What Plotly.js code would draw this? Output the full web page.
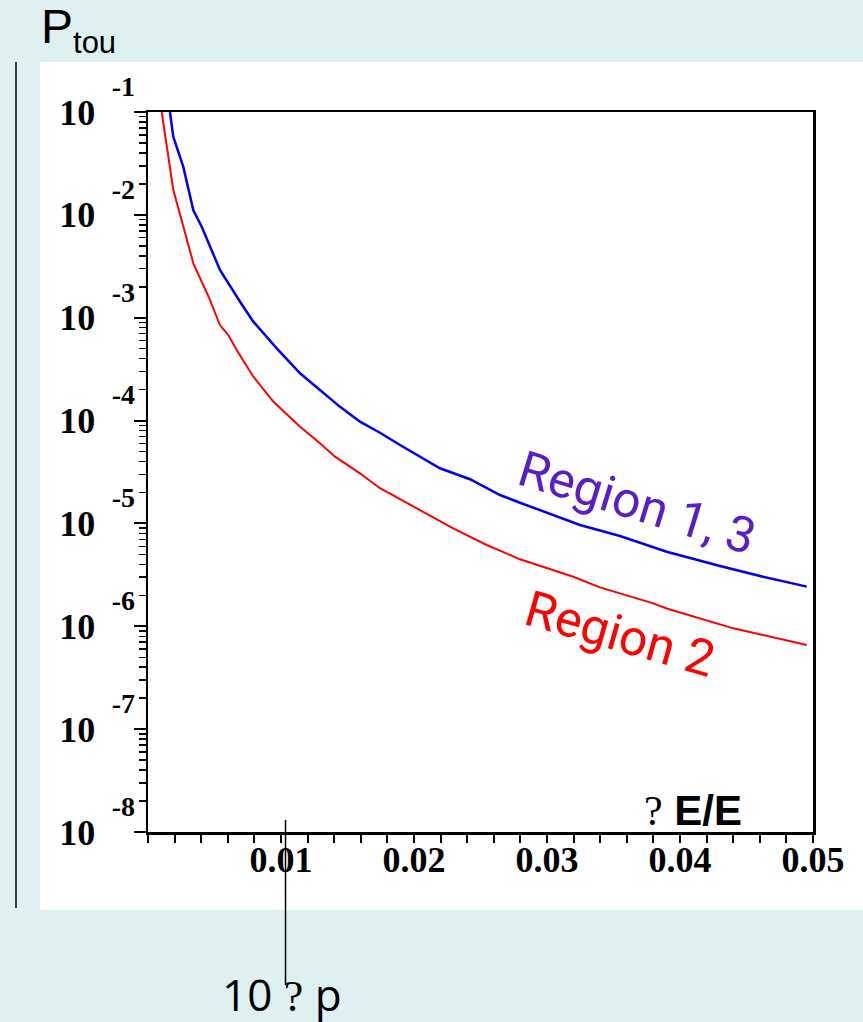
<!DOCTYPE html>
<html>
<head>
<meta charset="utf-8">
<script src="https://cdn.plot.ly/plotly-3.0.1.min.js"></script>
<style>html,body{margin:0;padding:0;background:#def0ef;}#chart{width:863px;height:1022px;}</style>
</head>
<body>
<div id="chart"></div>
<script>
// Region 1, 3 (blue)
const blueX = [0.00165,0.00190,0.00265,0.00341,0.00404,0.00541,0.00692,0.00792,0.00968,0.01143,0.01293,0.01444,0.01594,0.01744,0.01895,0.02045,0.02195,0.02421,0.02647,0.02797,0.03248,0.03549,0.03699,0.03900,0.04301,0.04602,0.04953];
const blueY = [1.0e-1,5.75e-2,2.94e-2,1.11e-2,7.67e-3,2.91e-3,1.43e-3,9.15e-4,5.04e-4,2.88e-4,1.98e-4,1.36e-4,9.75e-5,7.62e-5,5.79e-5,4.46e-5,3.44e-5,2.69e-5,1.89e-5,1.59e-5,9.66e-6,7.55e-6,6.50e-6,5.31e-6,3.85e-6,3.08e-6,2.43e-6];
// Region 2 (red)
const redX = [0.00103,0.00190,0.00341,0.00466,0.00541,0.00604,0.00667,0.00792,0.00942,0.01143,0.01293,0.01406,0.01594,0.01744,0.01895,0.02045,0.02295,0.02547,0.02797,0.03198,0.03398,0.03799,0.03900,0.04401,0.04802,0.04953];
const redY = [1.0e-1,1.75e-2,3.38e-3,1.49e-3,8.49e-4,6.79e-4,4.85e-4,2.67e-4,1.53e-4,8.72e-5,6.01e-5,4.46e-5,3.07e-5,2.20e-5,1.72e-5,1.35e-5,8.97e-6,6.17e-6,4.48e-6,3.03e-6,2.39e-6,1.67e-6,1.49e-6,9.55e-7,7.36e-7,6.58e-7];

const xTickVals = [0.01,0.02,0.03,0.04,0.05];
const xTickText = ['0.01','0.02','0.03','0.04','0.05'];
const yTickVals = [1e-8,1e-7,1e-6,1e-5,1e-4,1e-3,1e-2,1e-1];
const yTickBase = ['10','10','10','10','10','10','10','10'];
const yTickExp = ['-8','-7','-6','-5','-4','-3','-2','-1'];

const serif = 'Liberation Serif, Times New Roman, serif';
const sans = 'Liberation Sans, Arial, sans-serif';

const traces = [
  {x: blueX, y: blueY, mode: 'lines', line: {color: '#0000ee', width: 2.5}, hoverinfo: 'skip', showlegend: false},
  {x: redX, y: redY, mode: 'lines', line: {color: '#ff0000', width: 2}, hoverinfo: 'skip', showlegend: false},
  // invisible carrier so the exponent axis is drawn
  {x: [blueX[0]], y: [blueY[0]], yaxis: 'y2', mode: 'markers', marker: {opacity: 0, size: 1}, hoverinfo: 'skip', showlegend: false}
];

const layout = {
  width: 863, height: 1022,
  paper_bgcolor: '#def0ef', plot_bgcolor: '#ffffff',
  margin: {l: 148, r: 50, t: 112, b: 190},
  showlegend: false,
  title: {text: 'P<sub><span style="font-size:31px">tou</span></sub>', xref: 'container', yref: 'container', x: 41/863, xanchor: 'left', y: 1 - 9/1022, yanchor: 'top', font: {family: sans, size: 48, color: '#000'}},
  xaxis: {
    range: [0, 0.05], showgrid: false, zeroline: false,
    showline: true, linecolor: '#000', linewidth: 2.5, mirror: true,
    tickmode: 'array', tickvals: xTickVals, ticktext: xTickText,
    ticks: 'outside', ticklen: 8, tickwidth: 2, tickcolor: '#000',
    ticklabelstandoff: -14,
    tickfont: {family: serif, size: 36, weight: 'bold', color: '#000'},
    minor: {tickmode: 'linear', tick0: 0, dtick: 0.002, ticks: 'outside', ticklen: 8, tickwidth: 2, tickcolor: '#000', showgrid: false}
  },
  yaxis: {
    type: 'log', range: [-8, -1], showgrid: false, zeroline: false,
    showline: true, linecolor: '#000', linewidth: 2.5, mirror: true,
    tickmode: 'array', tickvals: yTickVals, ticktext: yTickBase,
    ticks: 'outside', ticklen: 12, tickwidth: 2, tickcolor: '#000',
    ticklabelstandoff: 31,
    tickfont: {family: serif, size: 36, weight: 'bold', color: '#000'},
    minor: {dtick: 'D1', ticks: 'outside', ticklen: 7, tickwidth: 1.5, tickcolor: '#000', showgrid: false}
  },
  yaxis2: {
    type: 'log', range: [-8, -1], overlaying: 'y', side: 'left', anchor: 'x',
    showgrid: false, zeroline: false, showline: false,
    tickmode: 'array', tickvals: yTickVals, ticktext: yTickExp,
    ticks: '', ticklabelstandoff: 12, ticklabelshift: -26,
    tickfont: {family: serif, size: 28, weight: 'bold', color: '#000'}
  },
  shapes: [
    {type: 'rect', layer: 'below', xref: 'paper', yref: 'paper', x0: (40-148)/665, x1: (863-148)/665, y0: (832-910)/720, y1: (832-62)/720, fillcolor: '#ffffff', line: {width: 0}},
    {type: 'line', xref: 'paper', yref: 'paper', x0: (16-148)/665, x1: (16-148)/665, y0: (832-908)/720, y1: (832-62)/720, line: {color: '#000', width: 1.5}},
    {type: 'line', xref: 'x', yref: 'paper', x0: 0.01034, x1: 0.01034, y0: (832-820)/720, y1: (832-985)/720, line: {color: '#000', width: 1.5}}
  ],
  annotations: [
    {text: '<span style="font-family:Liberation Serif;font-weight:normal">?</span> <b>E/E</b>', xref: 'paper', yref: 'paper', x: (744-148)/665, y: (832-810)/720, xanchor: 'right', yanchor: 'middle', showarrow: false, font: {family: sans, size: 42, color: '#000'}},
    {text: 'Region 1, 3', xref: 'paper', yref: 'paper', x: (637-148)/665, y: (832-503)/720, xanchor: 'center', yanchor: 'middle', textangle: 17, showarrow: false, font: {family: 'Roboto, sans-serif', size: 50, color: '#5a1ec8'}},
    {text: 'Region 2', xref: 'paper', yref: 'paper', x: (620-148)/665, y: (832-634)/720, xanchor: 'center', yanchor: 'middle', textangle: 16, showarrow: false, font: {family: 'Roboto, sans-serif', size: 50, color: '#ff0000'}},
    {text: '10 <span style="font-family:Liberation Serif">?</span> p', xref: 'paper', yref: 'paper', x: (220-148)/665, y: (832-994)/720, xanchor: 'left', yanchor: 'middle', showarrow: false, font: {family: 'Open Sans, sans-serif', size: 44, color: '#000'}}
  ]
};

Plotly.newPlot('chart', traces, layout, {displayModeBar: false, staticPlot: true});
</script>
</body>
</html>
